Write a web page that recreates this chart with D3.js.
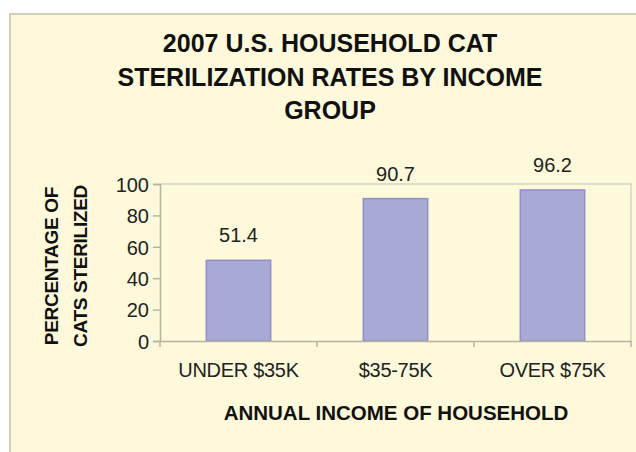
<!DOCTYPE html>
<html><head><meta charset="utf-8">
<script src="https://cdn.jsdelivr.net/npm/d3@7/dist/d3.min.js"></script>
<style>html,body{margin:0;padding:0;background:#fff;}svg{display:block;}</style>
</head><body>
<svg id="c" width="636" height="452"></svg>
<script>
const categories = ["UNDER $35K", "$35-75K", "OVER $75K"];
const values = [51.4, 90.7, 96.2];
const yTicks = [0, 20, 40, 60, 80, 100];
const titleLines = ["2007 U.S. HOUSEHOLD CAT", "STERILIZATION RATES BY INCOME", "GROUP"];
const yTitleLines = ["PERCENTAGE OF", "CATS STERILIZED"];
const xTitle = "ANNUAL INCOME OF HOUSEHOLD";

const svg = d3.select("#c");
const font = "'Liberation Sans', Arial, sans-serif";

// chart area frame
svg.append("rect").attr("x", 10).attr("y", 14).attr("width", 640).attr("height", 460)
  .attr("fill", "#fdf9da").attr("stroke", "#cfcdbd").attr("stroke-width", 2);

const plot = {left: 160, right: 631, top: 184, bottom: 341};

const x = d3.scaleBand().domain(categories).range([plot.left, plot.right]).padding(0);
const y = d3.scaleLinear().domain([0, 100]).range([plot.bottom, plot.top]);
const barFrac = 0.41;

// plot border (top/right)
svg.append("path")
  .attr("d", `M${plot.left},${plot.top}H${plot.right}V${plot.bottom}`)
  .attr("fill", "none").attr("stroke", "#d6d4c4").attr("stroke-width", 1.5);

// bars
svg.append("g").selectAll("rect").data(values).join("rect")
  .attr("x", (d, i) => x(categories[i]) + x.bandwidth() * (1 - barFrac) / 2)
  .attr("width", x.bandwidth() * barFrac)
  .attr("y", d => y(d))
  .attr("height", d => y(0) - y(d))
  .attr("fill", "#a9a9d6").attr("stroke", "#9090c6").attr("stroke-width", 1.5);

// value labels
svg.append("g").selectAll("text").data(values).join("text")
  .attr("x", (d, i) => x(categories[i]) + x.bandwidth() / 2)
  .attr("y", d => y(d) - 18)
  .attr("text-anchor", "middle")
  .attr("font-family", font).attr("font-size", 20).attr("fill", "#222")
  .text(d => d.toFixed(1));

// y axis
const yAxis = svg.append("g").attr("transform", `translate(${plot.left},0)`)
  .call(d3.axisLeft(y).tickValues(yTicks).tickSize(7).tickPadding(4));
yAxis.select(".domain").attr("stroke", "#b5b3a5").attr("stroke-width", 1.5);
yAxis.selectAll(".tick line").attr("stroke", "#b5b3a5").attr("stroke-width", 1.5);
yAxis.selectAll(".tick text").attr("font-family", font).attr("font-size", 20).attr("fill", "#222")
  .attr("dy", "0.36em");

// x axis
const xAxis = svg.append("g").attr("transform", `translate(0,${plot.bottom})`)
  .call(d3.axisBottom(x).tickSize(0).tickPadding(22));
xAxis.select(".domain").attr("stroke", "#b5b3a5").attr("stroke-width", 1.5);
xAxis.selectAll(".tick text").attr("font-family", font).attr("font-size", 20).attr("fill", "#222")
  .attr("letter-spacing", "-0.3px");
// category boundary ticks
const bounds = categories.map(c => x(c)).concat([x(categories[categories.length - 1]) + x.bandwidth()]);
svg.append("g").selectAll("line").data(bounds).join("line")
  .attr("x1", d => d).attr("x2", d => d)
  .attr("y1", plot.bottom).attr("y2", plot.bottom + 6)
  .attr("stroke", "#b5b3a5").attr("stroke-width", 1.5);

// title
svg.append("g").selectAll("text").data(titleLines).join("text")
  .attr("x", 330).attr("y", (d, i) => 52 + i * 33.5)
  .attr("text-anchor", "middle")
  .attr("font-family", font).attr("font-weight", "bold").attr("font-size", 25).attr("fill", "#111")
  .text(d => d);

// y title
svg.append("g").selectAll("text").data(yTitleLines).join("text")
  .attr("transform", (d, i) => `translate(${57.5 + i * 29},266) rotate(-90)`)
  .attr("text-anchor", "middle")
  .attr("font-family", font).attr("font-weight", "bold").attr("font-size", 19).attr("fill", "#111")
  .attr("letter-spacing", "-0.3px")
  .text(d => d);

// x title
svg.append("text").attr("x", 396).attr("y", 420).attr("text-anchor", "middle")
  .attr("font-family", font).attr("font-weight", "bold").attr("font-size", 20.5).attr("fill", "#111")
  .text(xTitle);
</script>
</body></html>
